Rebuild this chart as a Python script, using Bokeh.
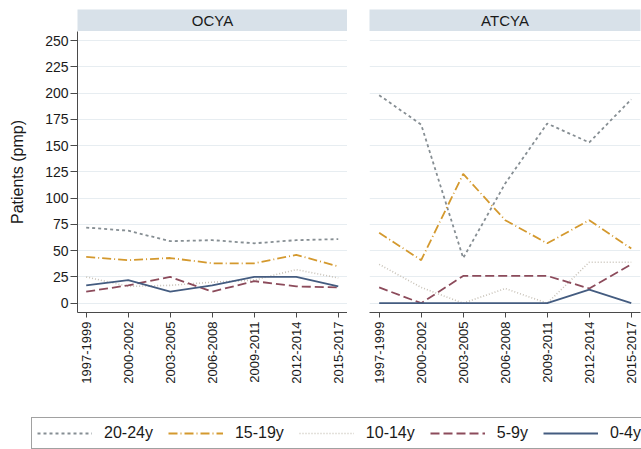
import math
from bokeh.plotting import figure
from bokeh.layouts import column, row
from bokeh.models import Range1d, FixedTicker, Label, Legend, LegendItem
from bokeh.embed import file_html
from bokeh.resources import INLINE

periods = ["1997-1999", "2000-2002", "2003-2005", "2006-2008", "2009-2011", "2012-2014", "2015-2017"]
panels = ["OCYA", "ATCYA"]
groups = ["20-24y", "15-19y", "10-14y", "5-9y", "0-4y"]
y_ticks = [0, 25, 50, 75, 100, 125, 150, 175, 200, 225, 250]

# OCYA
ocya_2024 = [72, 69, 59, 60, 57, 60, 61]
ocya_1519 = [44, 41, 43, 38, 38, 46, 35]
ocya_1014 = [25, 16, 17, 20, 22, 32, 24]
ocya_0509 = [11, 17, 25, 11, 21, 16, 15]
ocya_0004 = [17, 22, 11, 17, 25, 25, 16]

# ATCYA
atcya_2024 = [198, 170, 43, 114, 171, 153, 194]
atcya_1519 = [67, 41, 123, 79, 57, 79, 52]
atcya_1014 = [37, 15, 0, 14, 0, 39, 39]
atcya_0509 = [15, 0, 26, 26, 26, 14, 37]
atcya_0004 = [0, 0, 0, 0, 0, 13, 0]

panel_data = {
    "OCYA": [ocya_2024, ocya_1519, ocya_1014, ocya_0509, ocya_0004],
    "ATCYA": [atcya_2024, atcya_1519, atcya_1014, atcya_0509, atcya_0004],
}

styles = [
    dict(line_color="#868e93", line_dash="3 3", line_width=1.8),
    dict(line_color="#d4992e", line_dash="9 3 1 3", line_width=1.8),
    dict(line_color="#c9c3b9", line_dash="1 2", line_width=1.6),
    dict(line_color="#8c4b5b", line_dash="9 4", line_width=1.8),
    dict(line_color="#445c80", line_dash="solid", line_width=1.8),
]

FONT = "Liberation Sans"
TXT = "#1a1a1a"
AX = "#4a4a4a"
HDR = "#d8e1e9"
GRID = "#e7edf1"

xs = list(range(len(periods)))
ylo, yhi = -8.85, 258.6


def header(name, width, left, right):
    h = figure(width=width, height=31, min_border_left=left, min_border_right=right,
               min_border_top=9, min_border_bottom=0, x_range=Range1d(0, 1), y_range=Range1d(0, 1),
               output_backend="svg", toolbar_location=None, x_axis_location=None, y_axis_location=None,
               background_fill_color=HDR, border_fill_color="white", outline_line_color=None)
    h.grid.visible = False
    h.add_layout(Label(x=0.5, y=0.5, text=name, text_align="center", text_baseline="middle",
                       text_font=FONT, text_font_size="15px", text_color=TXT))
    return h


def panel(name, width, left, right, show_y):
    p = figure(width=width, height=377, min_border_left=left, min_border_right=right,
               min_border_top=0, min_border_bottom=96,
               x_range=Range1d(-0.207 if show_y else -0.23, 6.22),
               y_range=Range1d(ylo, yhi),
               output_backend="svg", toolbar_location=None,
               background_fill_color="white", border_fill_color="white", outline_line_color=None)
    for vals, st in zip(panel_data[name], styles):
        p.line(xs, vals, **st)
    p.xaxis.ticker = FixedTicker(ticks=xs)
    p.xaxis.major_label_overrides = {i: s for i, s in enumerate(periods)}
    p.xaxis.major_label_orientation = math.pi / 2
    p.xaxis.major_label_text_font = FONT
    p.xaxis.major_label_text_font_size = "13px"
    p.xaxis.major_label_text_color = TXT
    p.xaxis.major_tick_out = 5
    p.xaxis.major_tick_in = 0
    p.xaxis.minor_tick_line_color = None
    p.xaxis.axis_line_color = AX
    p.xaxis.major_tick_line_color = AX
    p.xaxis.major_label_standoff = 4
    p.yaxis.ticker = FixedTicker(ticks=y_ticks)
    p.xgrid.visible = False
    p.ygrid.grid_line_color = GRID
    p.ygrid.grid_line_width = 1
    if show_y:
        p.yaxis.axis_label = "Patients (pmp)"
        p.yaxis.axis_label_text_font = FONT
        p.yaxis.axis_label_text_font_size = "16px"
        p.yaxis.axis_label_text_font_style = "normal"
        p.yaxis.axis_label_text_color = TXT
        p.yaxis.axis_label_standoff = 16
        p.yaxis.major_label_text_font = FONT
        p.yaxis.major_label_text_font_size = "14px"
        p.yaxis.major_label_text_color = TXT
        p.yaxis.major_tick_out = 7
        p.yaxis.major_tick_in = 0
        p.yaxis.minor_tick_line_color = None
        p.yaxis.axis_line_color = AX
        p.yaxis.major_tick_line_color = AX
        p.yaxis.major_label_standoff = 2
    else:
        p.yaxis.visible = False
    return p


h1 = header("OCYA", 347, 77, 0)
h2 = header("ATCYA", 294, 22, 1)
p1 = panel("OCYA", 347, 77, 0, True)
p2 = panel("ATCYA", 294, 22, 1, False)

# legend-only figure: its lines use the OCYA series but lie outside its visible ranges
lg = figure(width=641, height=41, min_border_left=31, min_border_right=0, min_border_top=9,
            min_border_bottom=0, x_range=Range1d(100, 101), y_range=Range1d(1000, 1001),
            output_backend="svg", toolbar_location=None, x_axis_location=None, y_axis_location=None,
            background_fill_color="white", border_fill_color="white", outline_line_color=None)
lg.grid.visible = False
items = []
for g, vals, st in zip(groups, panel_data["OCYA"], styles):
    r = lg.line(xs, vals, **st)
    items.append(LegendItem(label=g, renderers=[r]))
leg = Legend(items=items, orientation="horizontal", location="top_left", margin=0,
             padding=5, spacing=15, glyph_width=55, glyph_height=20, label_standoff=12,
             label_text_font=FONT, label_text_font_size="16px", label_text_color=TXT,
             border_line_color="#444444", border_line_width=1, background_fill_color="white",
             background_fill_alpha=1.0)
lg.add_layout(leg, "center")

layout = column(row(h1, h2), row(p1, p2), lg)
open("out.html", "w").write(file_html(layout, INLINE))
